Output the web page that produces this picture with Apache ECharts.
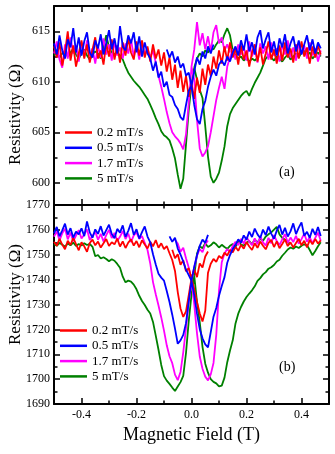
<!DOCTYPE html>
<html>
<head>
<meta charset="utf-8">
<script src="https://cdn.jsdelivr.net/npm/echarts@6/dist/echarts.min.js"></script>
<style>
  html, body { margin: 0; padding: 0; background: #fff; }
  #chart { width: 335px; height: 454px; }
</style>
</head>
<body>
<div id="chart"></div>
<script>
// magnetic field (T), shared by all traces
const field = [
  -0.50, -0.49, -0.48, -0.47, -0.46, -0.45, -0.44, -0.43, -0.42, -0.41,
  -0.40, -0.39, -0.38, -0.37, -0.36, -0.35, -0.34, -0.33, -0.32, -0.31,
  -0.30, -0.29, -0.28, -0.27, -0.26, -0.25, -0.24, -0.23, -0.22, -0.21,
  -0.20, -0.19, -0.18, -0.17, -0.16, -0.15, -0.14, -0.13, -0.12, -0.11,
  -0.10, -0.09, -0.08, -0.07, -0.06, -0.05, -0.04, -0.03, -0.02, -0.01,
  0.00, 0.01, 0.02, 0.03, 0.04, 0.05, 0.06, 0.07, 0.08, 0.09,
  0.10, 0.11, 0.12, 0.13, 0.14, 0.15, 0.16, 0.17, 0.18, 0.19,
  0.20, 0.21, 0.22, 0.23, 0.24, 0.25, 0.26, 0.27, 0.28, 0.29,
  0.30, 0.31, 0.32, 0.33, 0.34, 0.35, 0.36, 0.37, 0.38, 0.39,
  0.40, 0.41, 0.42, 0.43, 0.44, 0.45, 0.46, 0.47
]

// panel (a)
const redA = [
  613.5, 612.4, 613.9, 611.6, 612.9, 615.0, 612.1, 613.6, 611.5, 612.8,
  614.1, 612.3, 613.7, 611.9, 613.2, 614.4, 612.3, 613.1, 611.7, 613.8,
  612.5, 614.2, 612.2, 613.6, 611.9, 613.9, 612.6, 614.3, 612.9, 612.2,
  614.0, 612.6, 614.1, 612.4, 613.5, 612.0, 613.7, 612.3, 613.2, 611.6,
  612.9, 611.0, 612.4, 610.2, 611.7, 609.4, 611.1, 609.0, 610.6, 608.5,
  609.9, 608.3, 610.4, 608.9, 611.3, 609.7, 611.7, 610.6, 612.5, 611.3,
  613.1, 611.8, 613.5, 612.1, 613.9, 612.4, 613.3, 611.7, 613.6, 612.2,
  613.1, 611.5, 612.9, 613.7, 612.0, 613.4, 611.7, 612.8, 614.0, 612.2,
  613.2, 611.8, 613.6, 612.1, 613.9, 612.4, 613.3, 611.9, 613.7, 612.3,
  614.0, 612.5, 613.4, 611.8, 613.5, 612.4, 613.6, 612.7
]
const blueA = [
  613.8, 612.7, 614.6, 613.1, 612.3, 614.2, 613.4, 615.3, 612.9, 614.4,
  612.6, 614.0, 614.9, 612.9, 612.4, 614.1, 613.3, 614.7, 612.7, 613.8,
  615.1, 613.2, 614.3, 612.8, 615.5, 613.5, 613.1, 614.6, 613.8, 614.9,
  612.9, 614.5, 612.5, 613.9, 612.8, 612.3, 611.1, 612.0, 610.4, 611.0,
  609.5, 610.0, 608.7, 608.5, 607.7, 607.3, 606.5, 606.2, 607.7, 609.1,
  609.6, 607.7, 606.3, 605.8, 607.3, 608.1, 609.5, 610.5, 611.2, 610.6,
  611.7, 612.1, 611.6, 612.5, 612.0, 612.9, 613.5, 612.6, 614.1, 613.1,
  614.7, 613.0, 613.9, 612.7, 614.4, 615.1, 613.3, 614.2, 614.9, 612.9,
  614.0, 612.6, 614.3, 613.4, 614.7, 612.8, 613.8, 614.5, 613.0, 614.1,
  612.7, 613.7, 614.6, 613.1, 614.2, 612.8, 613.9, 613.3
]
const magentaA = [
  612.8, 614.0, 612.2, 611.4, 613.7, 612.3, 614.4, 612.8, 613.6, 612.0,
  613.9, 612.5, 614.1, 612.6, 613.3, 611.8, 613.5, 612.4, 614.3, 612.7,
  613.7, 612.1, 614.0, 612.6, 613.4, 612.3, 613.8, 612.8, 614.2, 612.5,
  613.6, 612.2, 613.9, 612.7, 613.3, 612.4, 613.1, 611.9, 610.6, 609.5,
  608.3, 607.0, 605.9, 605.0, 604.6, 604.3, 603.9, 603.3, 604.8, 607.9,
  611.5, 610.2, 606.2, 603.4, 602.6, 603.0, 603.6, 605.0, 606.6, 608.2,
  609.4, 610.5, 609.3, 611.5, 612.4, 613.2, 612.2, 613.7, 612.7, 613.5,
  612.1, 614.0, 612.5, 613.4, 611.9, 613.8, 612.8, 613.5, 612.2, 613.9,
  612.6, 613.3, 612.0, 613.7, 612.7, 614.1, 612.4, 613.4, 612.1, 613.8,
  612.8, 613.6, 612.3, 613.9, 612.6, 613.3, 612.0, 613.1
]
const greenA = [
  612.6, 612.9, 612.4, 612.8, 613.1, 612.5, 612.9, 613.3, 612.7, 612.3,
  612.8, 613.2, 612.6, 612.2, 612.7, 613.0, 612.8, 612.3, 613.5, 614.6,
  613.4, 612.9, 612.7, 612.9, 612.6, 612.2, 611.5, 610.9, 610.5, 610.1,
  609.8, 609.5, 609.1, 608.7, 608.3, 607.7, 607.1, 606.4, 605.8, 605.1,
  604.7, 604.5, 604.2, 603.4, 602.4, 600.8, 599.4, 600.4, 603.8, 607.2,
  609.8, 611.4, 610.2, 609.2, 608.4, 605.6, 602.6, 600.6, 600.0, 600.4,
  601.0, 602.2, 603.6, 605.6, 606.8, 607.4, 607.8, 608.2, 608.6, 608.9,
  609.1, 608.6, 609.3, 609.9, 610.4, 610.9, 611.6, 612.3, 612.6, 612.4,
  612.1, 612.5, 612.3, 612.0, 612.4, 612.7, 612.2, 612.5, 612.8, 612.4,
  612.9, 613.1, 612.6, 612.9, 612.3, 612.6, 612.9, 612.5
]
// the other sweep direction, where it leaves the shared baseline
const blueAExtra = [
  [[-0.09, 613.2], [-0.08, 612.4], [-0.07, 613.0], [-0.06, 611.9], [-0.05, 612.5],
   [-0.04, 611.4], [-0.03, 611.8], [-0.02, 610.6], [-0.01, 610.9], [0.00, 609.6]],
  [[0.00, 609.6], [0.01, 611.0], [0.02, 612.4], [0.03, 611.7], [0.04, 613.0],
   [0.05, 612.3], [0.06, 613.5], [0.07, 612.8], [0.08, 613.7]]
]
const magentaAExtra = [
  [[0.00, 611.5], [0.01, 613.2], [0.02, 615.9], [0.03, 613.6], [0.04, 614.8],
   [0.05, 613.2], [0.06, 614.5], [0.07, 613.0], [0.08, 614.9], [0.09, 615.6],
   [0.10, 613.8], [0.11, 614.4], [0.12, 613.1], [0.13, 613.7], [0.14, 612.9]]
]
const greenAExtra = [
  [[0.01, 611.4], [0.02, 612.3], [0.03, 612.8], [0.04, 612.5], [0.05, 613.1],
   [0.06, 612.9], [0.07, 613.4], [0.08, 613.2], [0.09, 613.7], [0.10, 614.1],
   [0.11, 613.9], [0.12, 614.7], [0.13, 615.3], [0.14, 614.6], [0.15, 613.1],
   [0.16, 612.6], [0.17, 612.3], [0.18, 612.5], [0.19, 612.1], [0.20, 612.4],
   [0.21, 612.0], [0.22, 612.3], [0.23, 612.1], [0.24, 612.4]]
]

// panel (b)
const redB = [
  1755.2, 1753.6, 1756.4, 1754.1, 1752.2, 1755.6, 1753.9, 1756.8, 1754.3, 1751.8,
  1755.0, 1753.4, 1751.2, 1754.7, 1756.1, 1753.8, 1755.3, 1752.9, 1754.6, 1756.3,
  1753.5, 1755.0, 1754.2, 1756.5, 1753.3, 1755.4, 1752.7, 1754.9, 1756.2, 1753.7,
  1755.5, 1753.0, 1755.8, 1754.1, 1752.5, 1755.2, 1753.4, 1755.9, 1752.8, 1754.6,
  1752.3, 1753.5, 1750.6, 1747.9, 1743.5, 1735.0, 1728.4, 1725.0, 1727.2, 1733.8,
  1740.5, 1736.2, 1731.0, 1726.4, 1723.2, 1727.5, 1742.8, 1746.4, 1748.3, 1747.1,
  1749.5, 1748.6, 1750.8, 1749.7, 1751.9, 1751.0, 1753.2, 1751.6, 1754.0, 1752.4,
  1755.1, 1753.3, 1751.9, 1754.6, 1752.8, 1755.3, 1753.6, 1752.2, 1754.8, 1756.0,
  1753.1, 1755.4, 1752.6, 1754.3, 1756.2, 1753.5, 1755.0, 1752.9, 1754.7, 1756.4,
  1753.8, 1755.6, 1753.0, 1755.9, 1754.2, 1756.3, 1754.5, 1755.8
]
const blueB = [
  1758.6, 1761.2, 1757.4, 1759.8, 1762.5, 1758.1, 1760.7, 1756.9, 1759.3, 1758.2,
  1760.6, 1757.5, 1763.4, 1759.0, 1756.8, 1760.2, 1758.4, 1761.5, 1757.7, 1759.9,
  1762.1, 1758.3, 1756.6, 1760.4, 1758.9, 1761.8, 1757.2, 1759.6, 1762.7, 1758.0,
  1760.3, 1756.5, 1759.1, 1761.4, 1757.3, 1755.0, 1750.2, 1746.1, 1742.4, 1740.8,
  1739.6, 1735.4, 1731.0, 1725.9, 1720.3, 1714.2, 1715.6, 1717.8, 1722.5, 1731.4,
  1739.5, 1733.8, 1726.3, 1720.1, 1716.4, 1714.0, 1712.8, 1718.9, 1725.1, 1728.6,
  1733.5, 1737.4, 1741.0, 1746.8, 1749.9, 1752.3, 1754.0, 1756.2, 1754.9, 1757.8,
  1756.0, 1759.3, 1757.1, 1760.5, 1758.2, 1756.7, 1760.1, 1757.9, 1761.3, 1758.5,
  1756.4, 1759.7, 1762.0, 1758.1, 1760.8, 1757.3, 1759.4, 1762.6, 1758.3, 1760.9,
  1763.0, 1757.6, 1759.2, 1756.8, 1760.4, 1758.0, 1761.1, 1757.5
]
const magentaB = [
  1757.3, 1759.4, 1755.8, 1758.6, 1760.5, 1756.2, 1758.9, 1755.4, 1757.7, 1759.9,
  1756.5, 1758.1, 1760.2, 1755.9, 1757.6, 1759.3, 1756.0, 1758.4, 1755.3, 1757.9,
  1760.0, 1756.7, 1758.8, 1755.6, 1757.2, 1759.6, 1756.3, 1758.5, 1755.1, 1757.8,
  1759.0, 1756.4, 1757.5, 1754.8, 1751.9, 1746.5, 1739.0, 1734.1, 1729.6, 1724.8,
  1719.5, 1713.6, 1709.2, 1706.4, 1701.8, 1699.6, 1702.9, 1710.8, 1720.5, 1731.2,
  1739.8, 1730.0, 1718.4, 1709.1, 1704.2, 1701.0, 1699.5, 1701.9, 1706.5, 1717.8,
  1735.6, 1747.0, 1750.5, 1752.3, 1751.1, 1753.6, 1755.2, 1753.9, 1756.4, 1754.5,
  1757.1, 1755.3, 1753.8, 1756.6, 1754.2, 1757.4, 1755.0, 1753.7, 1756.8, 1754.6,
  1757.9, 1755.5, 1753.9, 1756.2, 1758.3, 1754.8, 1756.9, 1755.1, 1757.6, 1754.4,
  1756.3, 1758.5, 1755.2, 1757.0, 1754.7, 1756.8, 1758.9, 1755.6
]
const greenB = [
  1754.2, 1753.6, 1754.8, 1754.0, 1753.3, 1754.5, 1753.8, 1754.9, 1753.5, 1754.3,
  1753.7, 1754.6, 1753.9, 1754.4, 1753.2, 1749.4, 1749.9, 1748.5, 1749.0, 1748.3,
  1747.4, 1748.2, 1747.6, 1746.3, 1744.8, 1741.2, 1738.9, 1739.6, 1739.2, 1738.0,
  1736.1, 1733.5, 1731.4, 1729.8, 1727.9, 1726.4, 1723.0, 1717.5, 1711.8, 1705.7,
  1701.2, 1699.4, 1698.1, 1696.6, 1695.2, 1697.0, 1698.8, 1701.3, 1710.5, 1723.4,
  1734.0, 1741.5, 1731.0, 1722.8, 1713.0, 1706.2, 1702.6, 1700.0, 1698.9, 1698.3,
  1697.1, 1697.4, 1700.6, 1706.8, 1711.5, 1715.6, 1722.4, 1726.3, 1729.0, 1731.2,
  1733.0, 1734.4, 1735.7, 1737.3, 1739.5, 1740.6, 1742.1, 1743.0, 1744.4, 1745.0,
  1745.9, 1747.3, 1748.0, 1749.6, 1750.8, 1752.1, 1752.9, 1752.4, 1753.3, 1752.7,
  1753.6, 1754.2, 1753.8, 1751.9, 1749.8, 1751.5, 1753.4, 1755.0
]
const redBExtra = [
  [[-0.07, 1752.0], [-0.06, 1748.6], [-0.05, 1750.2], [-0.04, 1746.0], [-0.03, 1747.8],
   [-0.02, 1743.4], [-0.01, 1744.6], [0.00, 1740.5]],
  [[0.00, 1740.5], [0.01, 1744.2], [0.02, 1741.0], [0.03, 1746.5], [0.04, 1744.9],
   [0.05, 1749.3], [0.06, 1751.3]]
]
const blueBExtra = [
  [[-0.08, 1757.4], [-0.07, 1755.2], [-0.06, 1756.8], [-0.05, 1752.5], [-0.04, 1750.1],
   [-0.03, 1747.3], [-0.02, 1744.0], [-0.01, 1741.8], [0.00, 1739.5]],
  [[0.00, 1739.5], [0.01, 1745.2], [0.02, 1749.8], [0.03, 1753.6], [0.04, 1756.1],
   [0.05, 1754.8], [0.06, 1758.0]]
]
const magentaBExtra = [
  [[-0.06, 1756.0], [-0.05, 1754.5], [-0.04, 1751.2], [-0.03, 1752.8], [-0.02, 1748.6],
   [-0.01, 1744.9], [0.00, 1739.8]],
  [[0.00, 1739.8], [0.01, 1745.0], [0.02, 1749.6], [0.03, 1752.3], [0.04, 1751.0],
   [0.05, 1754.2], [0.06, 1755.7]]
]
const greenBExtra = [
  [[0.01, 1741.5], [0.02, 1750.5], [0.03, 1753.4], [0.04, 1752.6], [0.05, 1754.6],
   [0.06, 1753.1], [0.07, 1753.8], [0.08, 1755.0], [0.09, 1754.2], [0.10, 1752.9],
   [0.11, 1754.0], [0.12, 1753.1], [0.13, 1752.4], [0.14, 1753.6], [0.15, 1754.3],
   [0.16, 1753.2], [0.17, 1755.6], [0.18, 1754.1], [0.19, 1753.7], [0.20, 1754.8],
   [0.21, 1755.5], [0.22, 1754.2], [0.23, 1756.1], [0.24, 1755.0], [0.25, 1756.4],
   [0.26, 1755.6], [0.27, 1757.3], [0.28, 1758.2], [0.29, 1759.0], [0.30, 1760.1],
   [0.31, 1761.2], [0.32, 1758.2], [0.33, 1756.8], [0.34, 1756.0], [0.35, 1755.1],
   [0.36, 1754.2]]
]

const rates = ['0.2 mT/s', '0.5 mT/s', '1.7 mT/s', '5 mT/s']
const colors = ['#ff0000', '#0000ff', '#ff00ff', '#008000']

const xMajor = [-0.4, -0.2, 0, 0.2, 0.4]
const xMinor = [-0.3, -0.1, 0.1, 0.3]
const yMajorA = [600, 605, 610, 615]
const yMinorA = [602.5, 607.5, 612.5, 617.5]
const yMajorB = [1690, 1700, 1710, 1720, 1730, 1740, 1750, 1760, 1770]
const yMinorB = [1695, 1705, 1715, 1725, 1735, 1745, 1755, 1765]

const FONT = '"Liberation Serif", "Times New Roman", serif'

function tick(vals, len) {
  return {inside: true, length: len, customValues: vals, lineStyle: {color: '#000', width: 1.5}}
}

function frameLine(show) {
  return show
    ? {show: true, onZero: false, lineStyle: {color: '#000', width: 2}}
    : {show: false, onZero: false}
}

function xAxes(grid, withLabels) {
  const base = {type: 'value', gridIndex: grid, min: -0.5, max: 0.5, splitLine: {show: false}}
  const bottom = Object.assign({}, base, {
    position: 'bottom', axisLine: frameLine(true), axisTick: tick(xMajor, 6),
    axisLabel: withLabels ? {
      customValues: xMajor, margin: 5, color: '#000', fontFamily: FONT, fontSize: 12,
      formatter: v => v.toFixed(1)
    } : {show: false}
  })
  if (withLabels) {
    bottom.name = 'Magnetic Field (T)'
    bottom.nameLocation = 'middle'
    bottom.nameGap = 22
    bottom.nameTextStyle = {fontFamily: FONT, fontSize: 18, color: '#000'}
  }
  return [
    bottom,
    Object.assign({}, base, {position: 'bottom', axisLine: frameLine(false), axisTick: tick(xMinor, 3.5), axisLabel: {show: false}}),
    Object.assign({}, base, {position: 'top', axisLine: frameLine(true), axisTick: tick(xMajor, 6), axisLabel: {show: false}}),
    Object.assign({}, base, {position: 'top', axisLine: frameLine(false), axisTick: tick(xMinor, 3.5), axisLabel: {show: false}})
  ]
}

function yAxes(grid, min, max, major, minor) {
  const base = {type: 'value', gridIndex: grid, min: min, max: max, splitLine: {show: false}}
  return [
    Object.assign({}, base, {
      position: 'left', axisLine: frameLine(true), axisTick: tick(major, 6),
      axisLabel: {customValues: major, margin: 4, color: '#000', fontFamily: FONT, fontSize: 12,
        formatter: v => String(v)}
    }),
    Object.assign({}, base, {position: 'left', axisLine: frameLine(false), axisTick: tick(minor, 3.5), axisLabel: {show: false}}),
    Object.assign({}, base, {position: 'right', axisLine: frameLine(true), axisTick: tick(major, 6), axisLabel: {show: false}}),
    Object.assign({}, base, {position: 'right', axisLine: frameLine(false), axisTick: tick(minor, 3.5), axisLabel: {show: false}})
  ]
}

// one trace on the shared field grid, plus the loose sweep segments after a gap
function track(ys, extras) {
  const d = field.map((x, i) => [x, ys[i]])
  ;(extras || []).forEach(seg => {
    d.push(['-', '-'])
    seg.forEach(p => d.push(p))
  })
  return d
}

function line(k, axisIdx, data) {
  return {
    type: 'line', name: rates[k], xAxisIndex: axisIdx, yAxisIndex: axisIdx,
    data: data, symbol: 'none', showSymbol: false, connectNulls: false,
    lineStyle: {color: colors[k], width: 1.8}, itemStyle: {color: colors[k]}
  }
}

function legend(left, top) {
  return {
    data: rates, orient: 'vertical', left: left, top: top, padding: 0,
    itemWidth: 27, itemHeight: 2.5, itemGap: 2.3, icon: 'rect', selectedMode: false,
    textStyle: {fontFamily: FONT, fontSize: 13, color: '#000'}
  }
}

function label(text, top) {
  return {
    text: text, left: 279, top: top, padding: 0,
    textStyle: {fontFamily: FONT, fontSize: 14, fontWeight: 'normal', color: '#000'}
  }
}

// rotated y titles, set a little off the panel centres as in the figure
function yTitle(cy) {
  return {
    type: 'text', x: 15.5, y: cy, rotation: Math.PI / 2,
    style: {text: 'Resistivity (Ω)', font: '17px ' + FONT, fill: '#000',
      textAlign: 'center', textVerticalAlign: 'middle'}
  }
}

const chart = echarts.init(document.getElementById('chart'), null, {renderer: 'canvas'})
chart.setOption({
  backgroundColor: '#fff',
  animation: false,
  title: [label('(a)', 165), label('(b)', 360)],
  legend: [legend(65, 126), legend(60, 324)],
  graphic: [yTitle(114.5), yTitle(294.5)],
  grid: [
    {left: 54, right: 6, top: 6, height: 199},
    {left: 54, right: 6, top: 205, height: 199}
  ],
  xAxis: xAxes(0, false).concat(xAxes(1, true)),
  yAxis: yAxes(0, 597.8, 617.5, yMajorA, yMinorA)
    .concat(yAxes(1, 1690, 1770, yMajorB, yMinorB)),
  series: [
    line(3, 0, track(greenA, greenAExtra)),
    line(2, 0, track(magentaA, magentaAExtra)),
    line(0, 0, track(redA)),
    line(1, 0, track(blueA, blueAExtra)),
    line(3, 4, track(greenB, greenBExtra)),
    line(2, 4, track(magentaB, magentaBExtra)),
    line(0, 4, track(redB, redBExtra)),
    line(1, 4, track(blueB, blueBExtra))
  ]
})
</script>
</body>
</html>
